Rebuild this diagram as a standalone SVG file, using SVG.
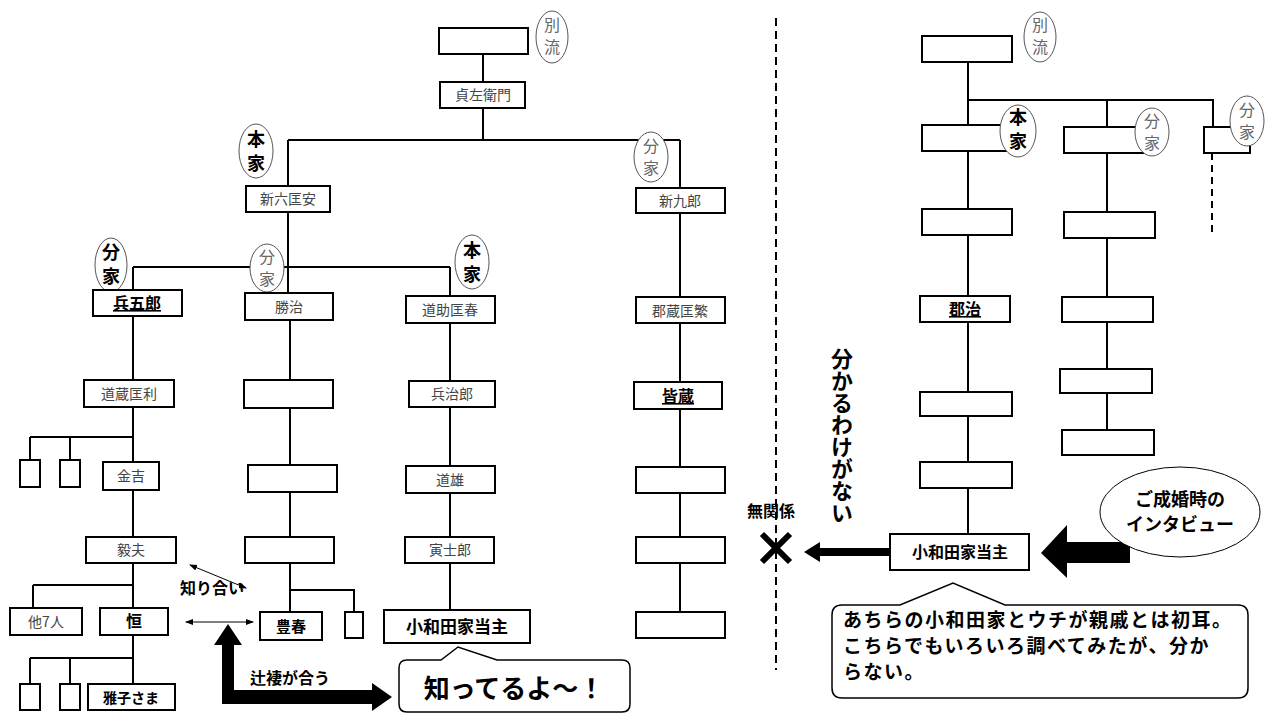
<svg xmlns="http://www.w3.org/2000/svg" width="1280" height="720" viewBox="0 0 1280 720">
<defs>
<style>
.b{fill:#fff;stroke:#000;stroke-width:2}
.l{stroke:#000;stroke-width:2;fill:none}
.t{font-family:"Noto Sans CJK JP","Noto Sans",sans-serif;font-size:14px;fill:#444;text-anchor:middle}
.tb{font-family:"Noto Sans CJK JP","Noto Sans",sans-serif;font-size:16px;font-weight:bold;fill:#000;text-anchor:middle}
.e{fill:#fff;stroke:#555;stroke-width:1}
.et{font-family:"Noto Sans CJK JP",sans-serif;font-size:16px;fill:#666;text-anchor:middle}
.ebt{font-family:"Noto Sans CJK JP",sans-serif;font-size:18px;font-weight:bold;fill:#000;text-anchor:middle}
.big{font-family:"Noto Sans CJK JP",sans-serif;font-weight:bold;fill:#000}
</style>
<marker id="ah" markerWidth="8" markerHeight="8" refX="7" refY="4" orient="auto-start-reverse" markerUnits="userSpaceOnUse"><path d="M0,1 L8,4 L0,7 Z" fill="#000"/></marker>
</defs>
<rect width="1280" height="720" fill="#fff"/>
<g id="connectors">
<path class="l" d="M483,54V82M483,108V140M288,140H680M288,140V186M680,140V188M288,212V293M133,267H450M133,267V290M450,267V296M680,213V297"/>
<path class="l" d="M133,316V380M133,407V462M30,437H133M30,437V460M70,437V460M133,490V537M133,563V608M33,585H133M33,585V608M133,635V684M30,658H133M30,658V684M70,658V684"/>
<path class="l" d="M290,320V380M290,408V465M290,492V537M290,563V612M290,590H354V612"/>
<path class="l" d="M450,323V381M450,407V466M450,493V537M450,563V610"/>
<path class="l" d="M680,323V382M680,409V467M680,493V537M680,563V612"/>
<path d="M776,18V670" stroke="#000" stroke-width="2" stroke-dasharray="8,5"/>
<path class="l" d="M968,62V534M968,100H1213V127M1107,100V127M1107,153V212M1107,238V297M1107,322V369M1107,393V430"/>
<path d="M1212,153V232" stroke="#000" stroke-width="2" stroke-dasharray="7,5"/>
<line x1="190" y1="565" x2="246" y2="588" stroke="#000" stroke-width="1" marker-start="url(#ah)" marker-end="url(#ah)"/>
<line x1="186" y1="622" x2="253" y2="622" stroke="#000" stroke-width="1" marker-start="url(#ah)" marker-end="url(#ah)"/>
<path d="M222,645 L214,645 L228,624 L242,645 L234,645 L234,690 L372,690 L372,683 L392,697 L372,711 L372,704 L222,704 Z" fill="#000"/>
<path d="M890,548H820V542L804,552L820,562V556H890Z" fill="#000"/>
<path d="M762,534L790,562M790,534L762,562" stroke="#000" stroke-width="6"/>
<path d="M1130,542H1067V525L1041,553L1067,578V563H1130Z" fill="#000"/>
</g>
<g id="left-top"><rect class="b" x="439" y="28" width="89" height="26"/><ellipse class="e" cx="552" cy="37" rx="16" ry="26"/><text class="et" x="552" y="31">別</text><text class="et" x="552" y="53">流</text></g>
<g id="n-sadazaemon"><rect class="b" x="440" y="82" width="85" height="26"/><text class="t" x="483" y="100">貞左衛門</text></g>
<g id="tag-honke1"><ellipse class="e" cx="256" cy="151" rx="17" ry="27"/><text class="ebt" x="256" y="146">本</text><text class="ebt" x="256" y="170">家</text></g>
<g id="tag-bunke1"><ellipse class="e" cx="651" cy="157" rx="17" ry="25"/><text class="et" x="651" y="152">分</text><text class="et" x="651" y="174">家</text></g>
<g id="n-shinroku"><rect class="b" x="246" y="186" width="84" height="26"/><text class="t" x="288" y="204">新六匡安</text></g>
<g id="n-shinkuro"><rect class="b" x="636" y="188" width="89" height="25"/><text class="t" x="680" y="206">新九郎</text></g>
<g id="tag-bunke2"><ellipse class="e" cx="111" cy="265" rx="16" ry="27"/><text class="ebt" x="111" y="259">分</text><text class="ebt" x="111" y="283">家</text></g>
<g id="tag-bunke3"><ellipse class="e" cx="267" cy="268" rx="17" ry="24"/><text class="et" x="267" y="263">分</text><text class="et" x="267" y="285">家</text></g>
<g id="tag-honke2"><ellipse class="e" cx="472" cy="262" rx="17" ry="27"/><text class="ebt" x="472" y="257">本</text><text class="ebt" x="472" y="281">家</text></g>
<g id="n-hyogoro"><rect class="b" x="93" y="290" width="89" height="26"/><text class="tb" x="137" y="309" text-decoration="underline">兵五郎</text></g>
<g id="n-katsuji"><rect class="b" x="245" y="293" width="88" height="27"/><text class="t" x="289" y="312">勝治</text></g>
<g id="n-michisuke"><rect class="b" x="406" y="296" width="89" height="27"/><text class="t" x="450" y="315">道助匡春</text></g>
<g id="n-gunzo"><rect class="b" x="636" y="297" width="89" height="26"/><text class="t" x="680" y="316">郡蔵匡繁</text></g>
<g id="n-michizo"><rect class="b" x="84" y="380" width="90" height="27"/><text class="t" x="129" y="399">道蔵匡利</text></g>
<g id="n-k1"><rect class="b" x="20" y="460" width="20" height="27"/></g>
<g id="n-k2"><rect class="b" x="60" y="460" width="20" height="27"/></g>
<g id="n-kinkichi"><rect class="b" x="103" y="462" width="56" height="28"/><text class="t" x="131" y="481">金吉</text></g>
<g id="n-takeo"><rect class="b" x="86" y="537" width="90" height="26"/><text class="t" x="131" y="555">毅夫</text></g>
<g id="n-other7"><rect class="b" x="10" y="608" width="72" height="27"/><text class="t" x="46" y="627">他7人</text></g>
<g id="n-hisashi"><rect class="b" x="100" y="608" width="68" height="27"/><text class="tb" x="134" y="627">恒</text></g>
<g id="n-k3"><rect class="b" x="20" y="684" width="20" height="26"/></g>
<g id="n-k4"><rect class="b" x="60" y="684" width="20" height="26"/></g>
<g id="n-masako"><rect class="b" x="88" y="684" width="87" height="26"/><text class="tb" x="131" y="703" style="font-size:14px">雅子さま</text></g>
<g id="n-c2a"><rect class="b" x="244" y="380" width="89" height="28"/></g>
<g id="n-c2b"><rect class="b" x="248" y="465" width="89" height="27"/></g>
<g id="n-c2c"><rect class="b" x="245" y="537" width="89" height="26"/></g>
<g id="n-toyoharu"><rect class="b" x="260" y="612" width="62" height="28"/><text class="tb" x="291" y="632" style="font-size:15px">豊春</text></g>
<g id="n-c2d"><rect class="b" x="345" y="612" width="18" height="26"/></g>
<g id="n-hyojiro"><rect class="b" x="409" y="381" width="86" height="26"/><text class="t" x="452" y="399">兵治郎</text></g>
<g id="n-michio"><rect class="b" x="406" y="466" width="89" height="27"/><text class="t" x="450" y="485">道雄</text></g>
<g id="n-torashiro"><rect class="b" x="405" y="537" width="89" height="26"/><text class="t" x="450" y="555">寅士郎</text></g>
<g id="n-owada-left"><rect class="b" x="384" y="610" width="146" height="33"/><text class="tb" x="457" y="633" style="font-size:17px">小和田家当主</text></g>
<g id="n-minazo"><rect class="b" x="634" y="382" width="88" height="27"/><text class="tb" x="678" y="402" text-decoration="underline">皆蔵</text></g>
<g id="n-c4a"><rect class="b" x="636" y="467" width="89" height="26"/></g>
<g id="n-c4b"><rect class="b" x="636" y="537" width="89" height="26"/></g>
<g id="n-c4c"><rect class="b" x="636" y="612" width="89" height="26"/></g>
<text class="big" x="212" y="594" font-size="16" text-anchor="middle">知り合い</text>
<text class="big" x="290" y="684" font-size="16" text-anchor="middle">辻褄が合う</text>
<g id="callout-left"><path d="M407,660H441L458,647L497,660H622Q630,660 630,668V704Q630,712 622,712H407Q399,712 399,704V668Q399,660 407,660Z" fill="#fff" stroke="#000" stroke-width="1.5"/><text class="big" x="514" y="698" font-size="26" text-anchor="middle">知ってるよ〜！</text></g>
<g id="right-top"><rect class="b" x="922" y="36" width="90" height="26"/><ellipse class="e" cx="1040" cy="37" rx="16" ry="25"/><text class="et" x="1040" y="31">別</text><text class="et" x="1040" y="53">流</text></g>
<g id="r-honke"><rect class="b" x="922" y="125" width="88" height="26"/><ellipse class="e" cx="1018" cy="131" rx="18" ry="26"/><text class="ebt" x="1018" y="124">本</text><text class="ebt" x="1018" y="148">家</text></g>
<g id="r-bunke1"><rect class="b" x="1064" y="127" width="89" height="26"/><ellipse class="e" cx="1152" cy="132" rx="17" ry="24"/><text class="et" x="1152" y="127">分</text><text class="et" x="1152" y="149">家</text></g>
<g id="r-bunke2"><rect class="b" x="1204" y="127" width="46" height="26"/><ellipse class="e" cx="1247" cy="121" rx="17" ry="25"/><text class="et" x="1247" y="116">分</text><text class="et" x="1247" y="138">家</text></g>
<g id="r-a1"><rect class="b" x="922" y="209" width="90" height="26"/></g>
<g id="r-gunji"><rect class="b" x="920" y="296" width="90" height="26"/><text class="tb" x="965" y="315" text-decoration="underline">郡治</text></g>
<g id="r-a3"><rect class="b" x="920" y="392" width="92" height="24"/></g>
<g id="r-a4"><rect class="b" x="920" y="462" width="92" height="26"/></g>
<g id="r-owada"><rect class="b" x="890" y="534" width="139" height="36"/><text class="tb" x="960" y="558">小和田家当主</text></g>
<g id="r-b1"><rect class="b" x="1064" y="212" width="91" height="26"/></g>
<g id="r-b2"><rect class="b" x="1062" y="297" width="91" height="25"/></g>
<g id="r-b3"><rect class="b" x="1060" y="369" width="92" height="24"/></g>
<g id="r-b4"><rect class="b" x="1062" y="430" width="92" height="25"/></g>
<text class="big" x="771" y="517" font-size="16" text-anchor="middle">無関係</text>
<text class="big" font-size="22" x="838" y="348" style="writing-mode:vertical-rl" dominant-baseline="middle">分かるわけがない</text>
<g id="interview"><ellipse cx="1180" cy="512" rx="80" ry="45" fill="#fff" stroke="#000" stroke-width="1"/><text class="big" x="1180" y="506" font-size="18" text-anchor="middle">ご成婚時の</text><text class="big" x="1180" y="531" font-size="18" text-anchor="middle">インタビュー</text></g>
<g id="callout-right"><path d="M842,605H900L953,583L1005,605H1238Q1248,605 1248,615V688Q1248,698 1238,698H842Q832,698 832,688V615Q832,605 842,605Z" fill="#fff" stroke="#000" stroke-width="1.5"/><text class="big" font-size="19" letter-spacing="1.5" x="843" y="627">あちらの小和田家とウチが親戚とは初耳。</text><text class="big" font-size="19" letter-spacing="1.5" x="843" y="653">こちらでもいろいろ調べてみたが、分か</text><text class="big" font-size="19" letter-spacing="1.5" x="843" y="679">らない。</text></g>
</svg>
